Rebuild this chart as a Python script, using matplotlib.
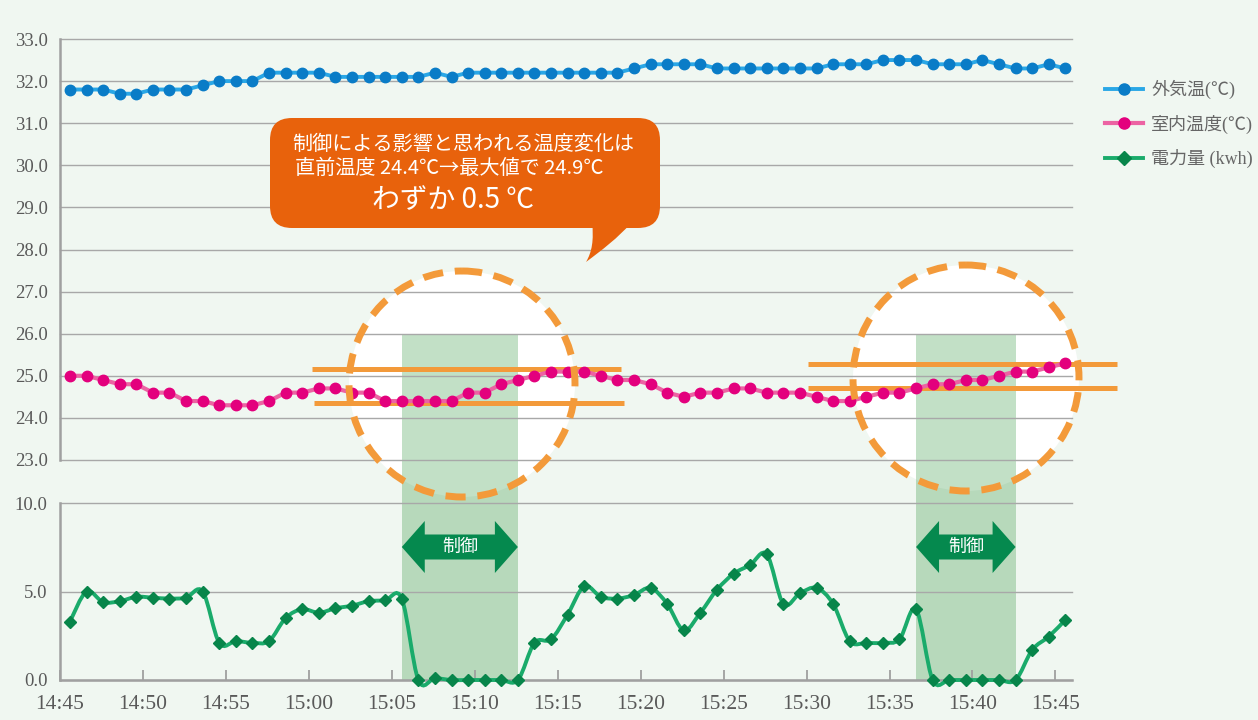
import numpy as np
import matplotlib
matplotlib.use("Agg")
import matplotlib.pyplot as plt
from matplotlib.patches import Circle, Rectangle, FancyBboxPatch, PathPatch, Polygon
from matplotlib.path import Path
from matplotlib.lines import Line2D
from matplotlib.font_manager import FontProperties
import matplotlib.transforms as mtrans

# ---------------- data ----------------
tick_labels = ["14:45", "14:50", "14:55", "15:00", "15:05", "15:10", "15:15",
               "15:20", "15:25", "15:30", "15:35", "15:40", "15:45"]
tick_minutes = [0, 5, 10, 15, 20, 25, 30, 35, 40, 45, 50, 55, 60]

minutes = list(range(61))  # one sample per minute from 14:45

outdoor_temp = [31.8, 31.8, 31.8, 31.7, 31.7, 31.8, 31.8, 31.8, 31.9, 32.0,
                32.0, 32.0, 32.2, 32.2, 32.2, 32.2, 32.1, 32.1, 32.1, 32.1,
                32.1, 32.1, 32.2, 32.1, 32.2, 32.2, 32.2, 32.2, 32.2, 32.2,
                32.2, 32.2, 32.2, 32.2, 32.3, 32.4, 32.4, 32.4, 32.4, 32.3,
                32.3, 32.3, 32.3, 32.3, 32.3, 32.3, 32.4, 32.4, 32.4, 32.5,
                32.5, 32.5, 32.4, 32.4, 32.4, 32.5, 32.4, 32.3, 32.3, 32.4,
                32.3]

indoor_temp = [25.0, 25.0, 24.9, 24.8, 24.8, 24.6, 24.6, 24.4, 24.4, 24.3,
               24.3, 24.3, 24.4, 24.6, 24.6, 24.7, 24.7, 24.6, 24.6, 24.4,
               24.4, 24.4, 24.4, 24.4, 24.6, 24.6, 24.8, 24.9, 25.0, 25.1,
               25.1, 25.1, 25.0, 24.9, 24.9, 24.8, 24.6, 24.5, 24.6, 24.6,
               24.7, 24.7, 24.6, 24.6, 24.6, 24.5, 24.4, 24.4, 24.5, 24.6,
               24.6, 24.7, 24.8, 24.8, 24.9, 24.9, 25.0, 25.1, 25.1, 25.2,
               25.3]

power_kwh = [3.3, 5.0, 4.4, 4.45, 4.7, 4.65, 4.6, 4.65, 5.0, 2.1,
             2.2, 2.1, 2.2, 3.5, 4.0, 3.8, 4.05, 4.2, 4.45, 4.5,
             4.6, 0.0, 0.1, 0.0, 0.0, 0.0, 0.0, 0.0, 2.1, 2.3,
             3.7, 5.3, 4.7, 4.6, 4.8, 5.2, 4.3, 2.8, 3.8, 5.1,
             6.0, 6.5, 7.1, 4.3, 4.9, 5.2, 4.3, 2.2, 2.1, 2.1,
             2.3, 4.0, 0.0, 0.0, 0.0, 0.0, 0.0, 0.0, 1.7, 2.45,
             3.4]

# control periods (sample index start, end)
control_periods = [(20, 27), (51, 57)]

series_labels = ["外気温(℃)", "室内温度(℃)", "電力量 (kwh)"]
control_label = "制御"
callout_lines = ["制御による影響と思われる温度変化は",
                 "直前温度 24.4℃→最大値で 24.9℃",
                 "わずか 0.5 ℃"]

# ---------------- style ----------------
W, H = 1258, 720
BG = "#f0f7f1"
GRID = "#a8a8a8"
SPINE = "#a0a0a0"
TXT = "#595959"
ORANGE = "#f39a3a"
SHADE = np.array([194, 224, 198]) / 255.0
BGRGB = np.array([240, 247, 241]) / 255.0
SHADE_DARK = SHADE * BGRGB
X_SHIFT = 0.6

x = np.array(minutes) + X_SHIFT

fig = plt.figure(figsize=(W / 100, H / 100), dpi=100, facecolor=BG)

ax_top = fig.add_axes([60 / W, 1 - 460 / H, 1012 / W, 421 / H], zorder=1)
ax_bot = fig.add_axes([60 / W, 1 - 680 / H, 1012 / W, 177 / H], zorder=1)
under = fig.add_axes([0, 0, 1, 1], zorder=0)
over = fig.add_axes([0, 0, 1, 1], zorder=3)
for a in (under, over):
    a.set_xlim(0, W)
    a.set_ylim(H, 0)
    a.axis("off")

serif = "Liberation Serif"
cjk = ["Noto Sans CJK JP", "DejaVu Sans"]

for ax in (ax_top, ax_bot):
    ax.set_facecolor("none")
    ax.set_xlim(0, 61)
    ax.set_axisbelow(True)
    ax.yaxis.grid(True, color=GRID, lw=1.0)
    for s in ("top", "right"):
        ax.spines[s].set_visible(False)
    ax.spines["left"].set_color(SPINE)
    ax.spines["left"].set_linewidth(1.8)
    ax.tick_params(axis="y", length=0, pad=9, labelsize=13.5, labelcolor=TXT)

# top axes
ax_top.set_ylim(23, 33)
ax_top.set_yticks(np.arange(23, 34, 1))
ax_top.set_yticklabels([f"{v:.1f}" for v in np.arange(23, 34, 1)], family=serif)
ax_top.spines["bottom"].set_visible(False)
ax_top.tick_params(axis="x", bottom=False, labelbottom=False)

# bottom axes
ax_bot.set_ylim(0, 10)
ax_bot.set_yticks([0, 5, 10])
ax_bot.set_yticklabels([f"{v:.1f}" for v in [0, 5, 10]], family=serif)
ax_bot.spines["bottom"].set_color(SPINE)
ax_bot.spines["bottom"].set_linewidth(1.8)
ax_bot.set_xticks(tick_minutes)
ax_bot.set_xticklabels(tick_labels, family=serif)
ax_bot.tick_params(axis="x", direction="in", length=7, width=1.3, color=SPINE,
                   pad=11, labelsize=15.5, labelcolor=TXT)

for ax in (ax_top, ax_bot):
    for gl in ax.get_ygridlines():
        gl.set_clip_on(False)

# ---------------- white circles + control shading ----------------
circles = [((462, 384), 113), ((966, 378), 113)]
circ_patches = []
for (cx, cy), r in circles:
    c = Circle((cx, cy), r, fc="white", ec="none", zorder=1)
    under.add_patch(c)
    circ_patches.append(c)

blend = mtrans.blended_transform_factory(ax_top.transData, under.transData)
shade_top_px, shade_bot_px = 334, 680
for (i0, i1), cp in zip(control_periods, circ_patches):
    x0, x1 = x[i0], x[i1]
    r1 = Rectangle((x0, shade_top_px), x1 - x0, shade_bot_px - shade_top_px,
                   transform=blend, fc=SHADE_DARK, ec="none", zorder=2)
    under.add_patch(r1)
    r2 = Rectangle((x0, shade_top_px), x1 - x0, shade_bot_px - shade_top_px,
                   transform=blend, fc=SHADE, ec="none", zorder=3)
    under.add_patch(r2)
    r2.set_clip_path(cp)

# ---------------- orange reference lines ----------------
orange_lines = [(15.2, 33.8, 25.16), (15.3, 34.0, 24.35),
                (45.1, 63.7, 25.28), (45.1, 63.7, 24.71)]
for xa, xb, yv in orange_lines:
    ax_top.plot([xa, xb], [yv, yv], color=ORANGE, lw=3.6, solid_capstyle="butt",
                clip_on=False, zorder=2)

# ---------------- series ----------------
ax_top.plot(x, outdoor_temp, color="#2aa7e6", lw=2.8, marker="o", ms=7.5,
            mfc="#0a7cc7", mec="#0a7cc7", clip_on=False, zorder=4)
ax_top.plot(x, indoor_temp, color="#ec63a3", lw=3.0, marker="o", ms=7.5,
            mfc="#e3007d", mec="#e3007d", clip_on=False, zorder=4)


def smooth_path(xs, ys):
    pts = np.column_stack([xs, ys])
    P = np.vstack([pts[0], pts, pts[-1]])
    verts = [pts[0]]
    codes = [Path.MOVETO]
    for i in range(1, len(P) - 2):
        p0, p1, p2, p3 = P[i - 1], P[i], P[i + 1], P[i + 2]
        c1 = p1 + (p2 - p0) / 6.0
        c2 = p2 - (p3 - p1) / 6.0
        verts += [c1, c2, p2]
        codes += [Path.CURVE4] * 3
    return Path(verts, codes)


gp = PathPatch(smooth_path(x, power_kwh), fill=False, ec="#1aab6b", lw=2.8,
               clip_on=False, zorder=4)
ax_bot.add_patch(gp)
ax_bot.plot(x, power_kwh, ls="none", marker="D", ms=6.5, mfc="#07854a",
            mec="#07854a", clip_on=False, zorder=5)

# ---------------- dashed circle outlines ----------------
for (cx, cy), r in circles:
    over.add_patch(Circle((cx, cy), r, fill=False, ec=ORANGE, lw=5,
                          ls=(0, (2.9, 1.7)), zorder=2))

# ---------------- control arrows ----------------
fig.canvas.draw()


def px(m):
    return ax_top.transData.transform((m, 0))[0]


yc, hl, hh, sh = 547, 23, 26, 12.5
for i0, i1 in control_periods:
    xl, xr = px(x[i0]), px(x[i1])
    pts = [(xl, yc), (xl + hl, yc - hh), (xl + hl, yc - sh), (xr - hl, yc - sh),
           (xr - hl, yc - hh), (xr, yc), (xr - hl, yc + hh), (xr - hl, yc + sh),
           (xl + hl, yc + sh), (xl + hl, yc + hh)]
    over.add_patch(Polygon(pts, closed=True, fc="#05894e", ec="none", zorder=3))
    over.text((xl + xr) / 2, yc, control_label, color="white", fontsize=13,
              family=cjk, ha="center", va="center", zorder=4)

# ---------------- callout ----------------
CALL = "#e8620c"
over.add_patch(FancyBboxPatch((270, 118), 390, 110,
                              boxstyle="round,pad=0,rounding_size=22",
                              fc=CALL, ec="none", zorder=5))
tail = Path([(592, 222), (594, 240), (592, 252), (586, 262),
             (602, 250), (618, 238), (632, 222), (592, 222)],
            [Path.MOVETO, Path.CURVE4, Path.CURVE4, Path.CURVE4,
             Path.CURVE4, Path.CURVE4, Path.CURVE4, Path.CLOSEPOLY])
over.add_patch(PathPatch(tail, fc=CALL, ec="none", zorder=5))
over.text(463, 145, callout_lines[0], color="white", fontsize=14.5, family=cjk,
          ha="center", va="center", zorder=6)
over.text(449, 168, callout_lines[1], color="white", fontsize=14.5, family=cjk,
          ha="center", va="center", zorder=6)
over.text(453, 200, callout_lines[2], color="white", fontsize=20, family=cjk,
          ha="center", va="center", zorder=6)

# ---------------- legend ----------------
handles = [
    Line2D([], [], color="#2aa7e6", lw=2.8, marker="o", ms=8,
           mfc="#0a7cc7", mec="#0a7cc7"),
    Line2D([], [], color="#ec63a3", lw=3.0, marker="o", ms=8,
           mfc="#e3007d", mec="#e3007d"),
    Line2D([], [], color="#1aab6b", lw=2.8, marker="D", ms=7,
           mfc="#07854a", mec="#07854a"),
]
fp = FontProperties(family=[serif, "Noto Sans CJK JP"], size=13)
fig.legend(handles, series_labels, loc="upper left",
           bbox_to_anchor=(1105 / W, 1 - 80 / H), frameon=False, prop=fp,
           handlelength=2.1, handletextpad=0.45, labelspacing=0.85,
           borderpad=0, borderaxespad=0, labelcolor="#666666")

fig.savefig("out.png", dpi=100, facecolor=BG)
